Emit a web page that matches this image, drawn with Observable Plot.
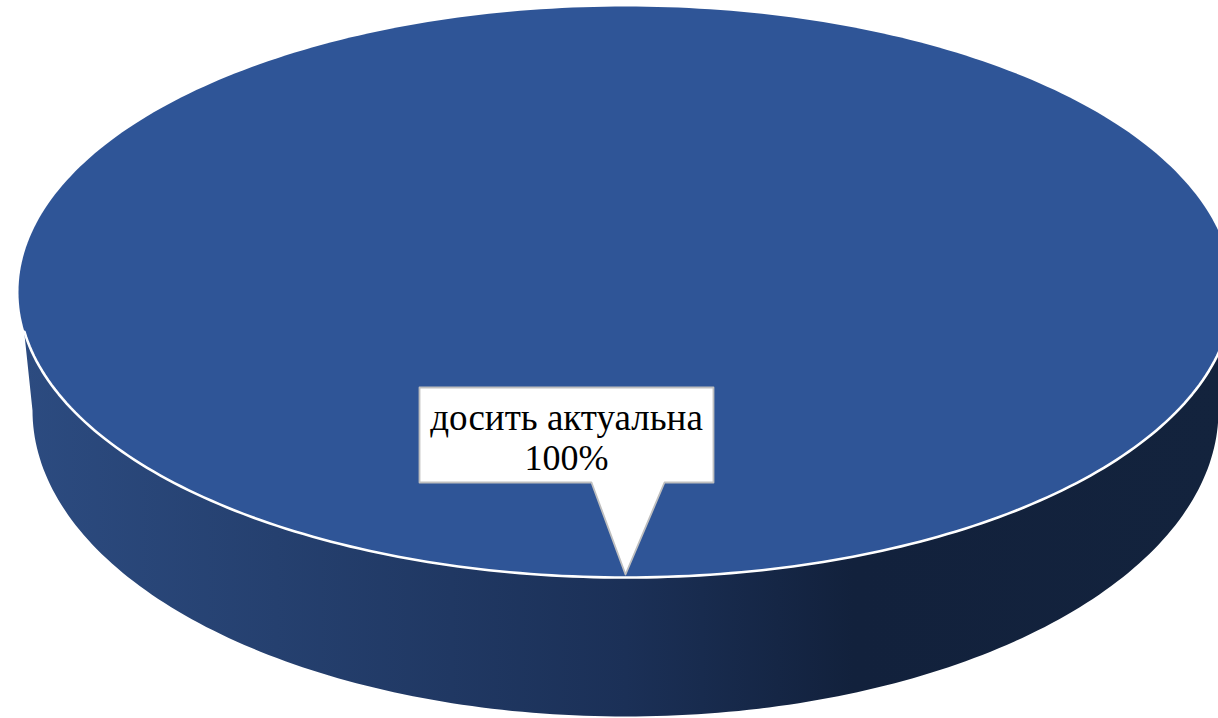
<!DOCTYPE html>
<html><head><meta charset="utf-8">
<script src="https://cdn.jsdelivr.net/npm/d3@7"></script>
<script src="https://cdn.jsdelivr.net/npm/@observablehq/plot@0.6"></script>
<style>html,body{margin:0;padding:0;background:#fff;overflow:hidden}svg{display:block}</style>
</head><body><div id="chart"></div>
<script>
const categories = ["досить актуальна"];
const shares = [100];
const labels = ["досить актуальна", "100%"];
const topDisc = {cx: 625, cy: 291.5, rx: 607, ry: 285.5};
const baseDisc = {cx: 625, cy: 410, rx: 593, ry: 306};
const callout = {x1: 419, x2: 713, y1: 387, y2: 482, tipL: 591, tipR: 664, tipX: 625, tipY: 574};
const gradStops = [[0,"#2c4b80"],[0.21,"#25406f"],[0.5,"#1b3057"],[0.69,"#12213c"],[1,"#13233d"]];

const slice = d3.pie().sort(null)(shares)[0];
const N = 360;
const angles = d3.range(N + 1).map(i => slice.startAngle + (slice.endAngle - slice.startAngle) * i / N);
const onDisc = (d, a) => ({x: d.cx + d.rx * Math.sin(a), y: d.cy - d.ry * Math.cos(a)});
const topRing = angles.map(a => onDisc(topDisc, a));
const join = 0.135;
const joinA = Math.asin(join);
const side = [
  ...angles.filter(a => a >= Math.PI/2 && a <= 3*Math.PI/2).map(a => onDisc(baseDisc, a)),
  onDisc(topDisc, 3*Math.PI/2 - joinA),
  onDisc(topDisc, Math.PI/2 + joinA)
];
const rim = angles.filter(a => a >= Math.PI/2 + joinA && a <= 3*Math.PI/2 - joinA).map(a => onDisc(topDisc, a));
const c = callout;
const bubble = [
  {x:c.x1,y:c.y1},{x:c.x2,y:c.y1},{x:c.x2,y:c.y2},{x:c.tipR,y:c.y2},
  {x:c.tipX,y:c.tipY},{x:c.tipL,y:c.y2},{x:c.x1,y:c.y2},{x:c.x1,y:c.y1}
];

const defs = () => {
  const s = d3.create("svg:defs");
  const g = s.append("linearGradient").attr("id","sideGrad")
    .attr("gradientUnits","objectBoundingBox").attr("x1",0).attr("x2",1).attr("y1",0).attr("y2",0);
  gradStops.forEach(([o,col]) => g.append("stop").attr("offset",o).attr("stop-color",col));
  return s.node();
};

const plot = Plot.plot({
  width: 1218, height: 718,
  margin: 0,
  x: {domain:[0,1218], range:[0,1218], axis:null},
  y: {domain:[0,718], range:[0,718], axis:null},
  marks: [
    defs,
    Plot.line(side, {x:"x", y:"y", fill:"url(#sideGrad)", stroke:"none", curve:"linear"}),
    Plot.line(topRing, {x:"x", y:"y", fill:"#2f5597", stroke:"none", curve:"linear"}),
    Plot.line(rim, {x:"x", y:"y", stroke:"#fff", strokeWidth:2.6, curve:"linear"}),
    Plot.line(bubble, {x:"x", y:"y", fill:"#fff", stroke:"#bfbfbf", strokeWidth:1.8, curve:"linear"}),
    Plot.text([labels[0]], {x:[566], y:[418], text:d=>d, fontSize:37, fontFamily:"Liberation Serif", fill:"#000"}),
    Plot.text([labels[1]], {x:[566], y:[458], text:d=>d, fontSize:36, fontFamily:"Liberation Serif", fill:"#000"})
  ]
});
document.getElementById("chart").append(plot);
</script></body></html>
